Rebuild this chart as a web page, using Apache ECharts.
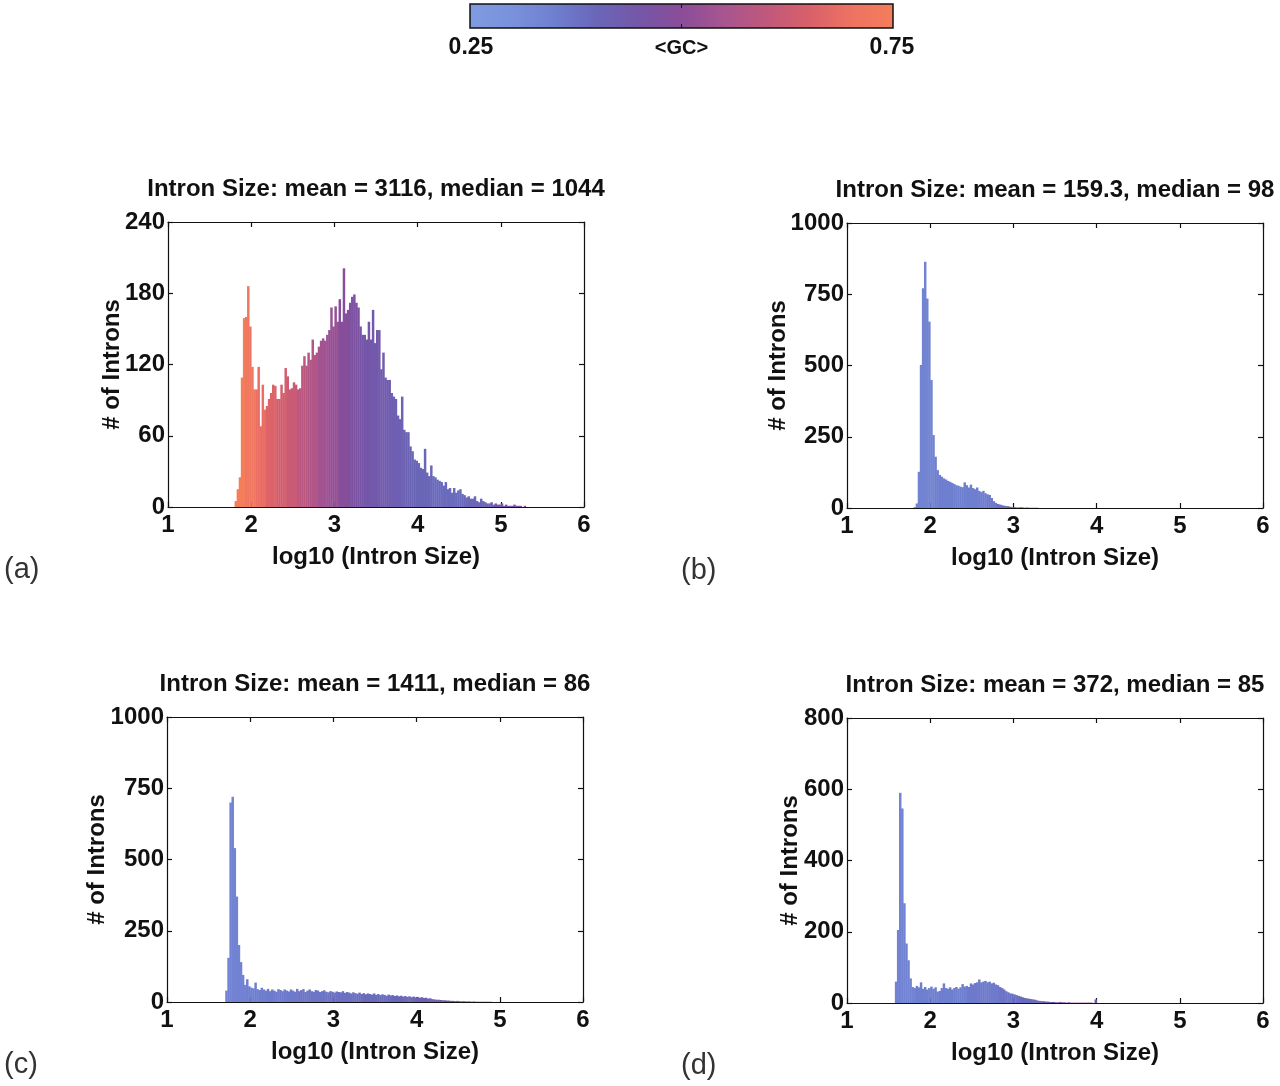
<!DOCTYPE html>
<html>
<head>
<meta charset="utf-8">
<title>Intron size histograms</title>
<script src="https://cdn.jsdelivr.net/npm/echarts@6/dist/echarts.min.js"></script>
<style>
  html, body { margin: 0; padding: 0; background: #fff; }
  #main { width: 1280px; height: 1086px; }
</style>
</head>
<body>
<div id="main"></div>
<script>
// bin width in log10 units, same for every panel
const binWidth = 0.025
const gcGroup = 5 // one GC value per 5 bins

// (a)
const aStart = 1.8
const aCounts = [
  5, 15, 25, 109, 159, 160, 186, 152, 118, 99,
  99, 118, 68, 103, 82, 85, 91, 96, 103, 102,
  91, 91, 103, 96, 117, 110, 99, 100, 105, 103,
  99, 100, 119, 127, 119, 130, 124, 141, 128, 130,
  135, 140, 142, 140, 145, 149, 168, 152, 169, 156,
  175, 156, 201, 163, 166, 172, 177, 179, 172, 168,
  152, 145, 145, 141, 156, 141, 166, 138, 149, 149,
  116, 130, 109, 107, 107, 96, 93, 91, 77, 74,
  93, 65, 63, 63, 51, 47, 40, 39, 37, 33,
  32, 49, 29, 26, 35, 26, 25, 23, 22, 21,
  18, 21, 15, 16, 12, 16, 12, 14, 15, 11,
  10, 8, 9, 7, 7, 9, 5, 4, 7, 5,
  4, 3, 3, 4, 2, 3, 2, 2, 3, 1,
  2, 1, 1, 1, 2, 1, 1, 1, 0, 1
]
const aGC = [
  0.75, 0.72, 0.69, 0.66, 0.64, 0.62, 0.59, 0.57, 0.54, 0.52,
  0.49, 0.47, 0.45, 0.44, 0.43, 0.42, 0.41, 0.40, 0.40, 0.39,
  0.39, 0.39, 0.40, 0.40, 0.42, 0.44, 0.46, 0.48
]

// (b)
const bStart = 1.8
const bCounts = [
  3, 16, 127, 502, 771, 864, 735, 654, 449, 256,
  180, 133, 116, 110, 104, 100, 95, 92, 88, 84,
  80, 78, 75, 73, 90, 80, 72, 82, 70, 66,
  72, 60, 56, 60, 52, 48, 46, 35, 24, 18,
  14, 12, 10, 8, 7, 6, 4, 3, 3, 2,
  2, 3, 2, 1, 2, 1, 1, 1, 1, 1
]
const bGC = [0.34, 0.34, 0.35, 0.35, 0.35, 0.35, 0.35, 0.36, 0.38, 0.45, 0.55, 0.62]

// (c)
const cStart = 1.7
const cCounts = [
  40, 155, 700, 720, 540, 370, 200, 140, 95, 60,
  80, 55, 50, 48, 68, 45, 42, 50, 44, 40,
  46, 38, 44, 40, 36, 45, 42, 38, 44, 40,
  37, 44, 40, 36, 46, 38, 42, 45, 35, 40,
  44, 38, 36, 42, 40, 35, 38, 41, 36, 34,
  38, 36, 33, 37, 35, 34, 38, 32, 35, 33,
  30, 34, 31, 29, 33, 28, 31, 27, 30, 28,
  26, 30, 25, 28, 24, 27, 25, 22, 26, 23,
  24, 21, 23, 20, 22, 19, 21, 18, 20, 17,
  19, 16, 18, 15, 17, 14, 15, 12, 13, 10,
  9, 8, 8, 7, 6, 6, 5, 5, 4, 4,
  3, 4, 3, 2, 3, 2, 2, 2, 1, 2,
  1, 1, 1, 1, 1, 1, 1, 1
]
const cGC = [
  0.34, 0.34, 0.35, 0.35, 0.36, 0.36, 0.36, 0.37, 0.37, 0.37,
  0.38, 0.38, 0.38, 0.39, 0.39, 0.39, 0.40, 0.40, 0.41, 0.42,
  0.43, 0.45, 0.48, 0.52, 0.56, 0.60
]

// (d)
const dStart = 1.575
const dCounts = [
  60, 205, 590, 546, 280, 167, 120, 69, 45, 42,
  48, 44, 58, 40, 45, 38, 42, 46, 40, 44,
  32, 34, 42, 55, 42, 40, 44, 38, 42, 45,
  40, 44, 53, 46, 48, 45, 55, 52, 56, 58,
  66, 58, 60, 62, 58, 60, 55, 57, 52, 50,
  45, 42, 38, 33, 30, 27, 26, 24, 22, 20,
  18, 16, 14, 13, 12, 11, 10, 9, 7, 6,
  5, 5, 4, 4, 3, 3, 3, 2, 2, 3,
  2, 2, 1, 2, 1, 1, 1, 1, 1, 1,
  1, 1, 1, 1, 1, 0, 10
]
const dGC = [
  0.34, 0.34, 0.35, 0.35, 0.35, 0.35, 0.35, 0.36, 0.36, 0.36,
  0.37, 0.38, 0.39, 0.40, 0.42, 0.45, 0.50, 0.55, 0.50, 0.45
]

const titles = [
  'Intron Size: mean = 3116, median = 1044',
  'Intron Size: mean = 159.3, median = 98',
  'Intron Size: mean = 1411, median = 86',
  'Intron Size: mean = 372, median = 85'
]
const letters = ['(a)', '(b)', '(c)', '(d)']
const yMax = [240, 1000, 1000, 800]
const yStep = [60, 250, 250, 200]
const xTicks = [1, 6, 1] // min, max, interval
const gcRange = [0.25, 0.75]
const gcColors = ['#7f9be0', '#7a92dc', '#6f7fd0', '#6a66b8', '#7556a8', '#8a4d98',
  '#a85590', '#c0587c', '#d8606a', '#ee7262', '#f47e5a']

const FONT = '"Liberation Sans", Arial, sans-serif'

// layout
const grids = [
  { left: 168, top: 222 },
  { left: 847, top: 223 },
  { left: 167, top: 717 },
  { left: 847, top: 718 }
]
const gridW = 416
const gridH = 285
const yNameGap = [44, 57, 58, 45]

function toBins(start, counts, gc) {
  return counts.map(function (c, i) {
    const x0 = +(start + i * binWidth).toFixed(4)
    return [x0, +(x0 + binWidth).toFixed(4), c, gc[Math.floor(i / gcGroup)]]
  })
}

const panelData = [
  toBins(aStart, aCounts, aGC),
  toBins(bStart, bCounts, bGC),
  toBins(cStart, cCounts, cGC),
  toBins(dStart, dCounts, dGC)
]

function renderBar(params, api) {
  const top = api.coord([api.value(0), api.value(2)])
  const bottom = api.coord([api.value(1), 0])
  return {
    type: 'rect',
    shape: { x: top[0], y: top[1], width: bottom[0] - top[0] + 0.4, height: bottom[1] - top[1] },
    style: { fill: api.visual('color') }
  }
}

const chart = echarts.init(document.getElementById('main'), null, { renderer: 'canvas' })

const lineStyle = { color: '#111', width: 1.2 }
const tickLabel = { color: '#111', fontFamily: FONT, fontSize: 24, fontWeight: 'bold' }
const nameStyle = { color: '#111', fontFamily: FONT, fontSize: 24, fontWeight: 'bold' }

const option = {
  backgroundColor: '#fff',
  animation: false,
  grid: grids.map(function (g) {
    return { left: g.left, top: g.top, width: gridW, height: gridH, containLabel: false }
  }),
  xAxis: [],
  yAxis: [],
  visualMap: {
    type: 'continuous',
    show: false,
    min: gcRange[0],
    max: gcRange[1],
    dimension: 3,
    seriesIndex: [0, 1, 2, 3],
    inRange: { color: gcColors }
  },
  series: panelData.map(function (data, i) {
    return {
      type: 'custom',
      xAxisIndex: i * 2,
      yAxisIndex: i * 2,
      renderItem: renderBar,
      encode: { x: [0, 1], y: 2 },
      data: data
    }
  }),
  graphic: []
}

for (let i = 0; i < 4; i++) {
  option.xAxis.push({
    gridIndex: i, type: 'value', min: xTicks[0], max: xTicks[1], interval: xTicks[2],
    axisLine: { onZero: false, lineStyle: lineStyle },
    axisTick: { inside: true, length: 5, lineStyle: lineStyle },
    axisLabel: Object.assign({ margin: 6, showMinLabel: true, showMaxLabel: true }, tickLabel),
    splitLine: { show: false },
    name: 'log10 (Intron Size)', nameLocation: 'middle', nameGap: 38, nameMoveOverlap: false,
    nameTextStyle: nameStyle
  })
  option.xAxis.push({
    gridIndex: i, type: 'value', position: 'top', min: xTicks[0], max: xTicks[1], interval: xTicks[2],
    axisLine: { onZero: false, lineStyle: lineStyle },
    axisTick: { inside: true, length: 5, lineStyle: lineStyle },
    axisLabel: { show: false }, splitLine: { show: false }
  })
  option.yAxis.push({
    gridIndex: i, type: 'value', min: 0, max: yMax[i], interval: yStep[i],
    axisLine: { show: true, onZero: false, lineStyle: lineStyle },
    axisTick: { show: true, inside: true, length: 5, lineStyle: lineStyle },
    axisLabel: Object.assign({
      margin: 3, showMinLabel: true, showMaxLabel: true,
      formatter: function (v) { return String(v) }
    }, tickLabel),
    splitLine: { show: false },
    name: '# of Introns', nameLocation: 'middle', nameGap: yNameGap[i], nameMoveOverlap: false,
    nameTextStyle: nameStyle
  })
  option.yAxis.push({
    gridIndex: i, type: 'value', position: 'right', min: 0, max: yMax[i], interval: yStep[i],
    axisLine: { show: true, onZero: false, lineStyle: lineStyle },
    axisTick: { show: true, inside: true, length: 5, lineStyle: lineStyle },
    axisLabel: { show: false }, splitLine: { show: false }
  })

  const g = grids[i]
  // panel title
  option.graphic.push({
    type: 'text', x: g.left + gridW / 2, y: g.top - 33,
    style: {
      text: titles[i], fill: '#111', font: 'bold 24px ' + FONT,
      textAlign: 'center', textVerticalAlign: 'middle'
    }
  })
  // panel letter
  option.graphic.push({
    type: 'text', x: i % 2 === 0 ? 4 : 681, y: g.top + gridH + 63,
    style: {
      text: letters[i], fill: '#333', font: '29px ' + FONT,
      textAlign: 'left', textVerticalAlign: 'middle'
    }
  })
}

// colour bar for <GC>
const barX = 470, barY = 4, barW = 423, barH = 24
option.graphic.push({
  type: 'rect',
  shape: { x: barX, y: barY, width: barW, height: barH },
  style: {
    fill: new echarts.graphic.LinearGradient(0, 0, 1, 0, gcColors.map(function (c, k) {
      return { offset: k / (gcColors.length - 1), color: c }
    })),
    stroke: '#111', lineWidth: 1.5
  }
})
option.graphic.push({
  type: 'line', shape: { x1: barX + barW / 2, y1: barY, x2: barX + barW / 2, y2: barY + 4 },
  style: { stroke: '#111', lineWidth: 1 }
})
option.graphic.push({
  type: 'line', shape: { x1: barX + barW / 2, y1: barY + barH - 4, x2: barX + barW / 2, y2: barY + barH },
  style: { stroke: '#111', lineWidth: 1 }
})
option.graphic.push({
  type: 'text', x: barX + 1, y: 48,
  style: { text: String(gcRange[0]), fill: '#111', font: 'bold 23px ' + FONT, textAlign: 'center', textVerticalAlign: 'middle' }
})
option.graphic.push({
  type: 'text', x: barX + barW / 2, y: 48,
  style: { text: '<GC>', fill: '#111', font: 'bold 20px ' + FONT, textAlign: 'center', textVerticalAlign: 'middle' }
})
option.graphic.push({
  type: 'text', x: barX + barW - 1, y: 48,
  style: { text: String(gcRange[1]), fill: '#111', font: 'bold 23px ' + FONT, textAlign: 'center', textVerticalAlign: 'middle' }
})

chart.setOption(option)
</script>
</body>
</html>
